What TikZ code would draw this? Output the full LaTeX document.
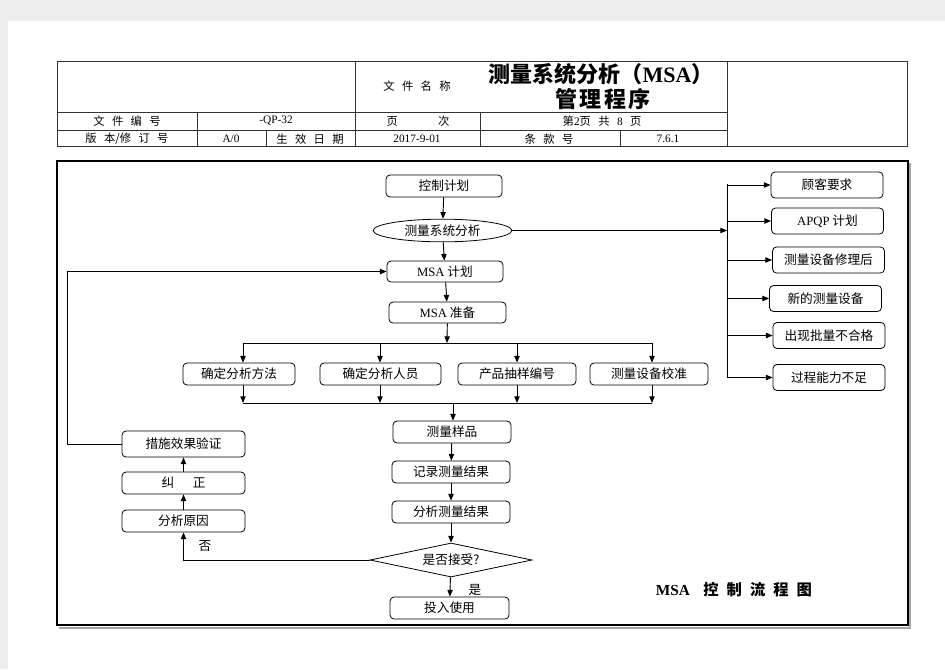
\documentclass[tikz,border=0pt]{standalone}
\usepackage{fontspec}
\setmainfont{Liberation Serif}
\newfontfamily\cjk{Noto Sans CJK SC}
\usetikzlibrary{shapes.geometric,arrows.meta}
\newcommand\widesp[1]{\spaceskip=#1\relax}

\begin{document}
\begin{tikzpicture}[x=0.75pt,y=-0.75pt,
	every node/.style={font=\cjk\fontsize{9.5pt}{11pt}\selectfont},
	box/.style={draw=black,line width=0.6pt,rounded corners=3pt,inner sep=0pt,minimum height=16.5pt},
	side/.style={box,minimum width=84pt,minimum height=19.5pt},
	cell/.style={inner sep=0pt,font=\cjk\fontsize{8.5pt}{10pt}\selectfont\widesp{5.5pt}},
	arr/.style={-{Triangle[length=5pt,width=4pt]},line width=0.7pt},
	]
	
	\useasboundingbox (0,0) rectangle (945,669);
	\fill[black!7] (0,0) rectangle (945,669);
	\fill[white] (8,21) rectangle (945,669);
	
	% header table
	\draw[black!80,line width=0.6pt] (57,61) rectangle (907,146);
	\draw[black!80,line width=0.6pt] (57,112) -- (727,112) (57,130) -- (727,130);
	\draw[black!80,line width=0.6pt] (355,61) -- (355,146) (480,112) -- (480,146) (727,61) -- (727,146);
	\draw[black!80,line width=0.6pt] (197,112) -- (197,146) (266,130) -- (266,146) (620,130) -- (620,146);
	
	\node[cell] (hname) at (417,86) {文 件 名 称};
	\node[cell,font=\cjk\bfseries\fontsize{16.5pt}{18pt}\selectfont] (title1) at (601,74) {测量系统分析（{\rmfamily\bfseries MSA}）};
	\node[cell,font=\cjk\bfseries\fontsize{16.5pt}{18pt}\selectfont] (title2) at (603,99) {管\hspace{2pt}理\hspace{2pt}程\hspace{2pt}序};
	\node[cell] (hno) at (127,121) {文 件 编 号};
	\node[cell] (vno) at (276,121) {\rmfamily -QP-32};
	\node[cell] (hpage) at (418,121) {页\hspace{30pt}次};
	\node[cell] (vpage) at (602,121) {第{\rmfamily 2}页 共 {\rmfamily 8} 页};
	\node[cell] (hver) at (127,139) {版 本/修 订 号};
	\node[cell] (vver) at (231,139) {\rmfamily A/0};
	\node[cell] (hdate) at (310,139) {生 效 日 期};
	\node[cell] (vdate) at (417,139) {\rmfamily 2017-9-01};
	\node[cell] (hcl) at (549,139) {条 款 号};
	\node[cell] (vcl) at (668,139) {\rmfamily 7.6.1};
	
	% frame
	\draw[black!35,line width=1.5pt] (910,163) -- (910,628) -- (59,628);
	\draw[black,line width=1.5pt] (57,161) rectangle (908,625);
	
	% main column
	\node[box,minimum width=87pt] (ctrl) at (444,186) {控制计划};
	\node[draw=black,line width=0.6pt,shape=ellipse,inner sep=0pt,minimum width=104pt,minimum height=17pt] (msys) at (442.5,230.5) {测量系统分析};
	\node[box,minimum width=87pt,minimum height=15.75pt] (plan) at (445,271.5) {{\rmfamily MSA} 计划};
	\node[box,minimum width=87.75pt,minimum height=15.75pt] (prep) at (447.5,312.5) {{\rmfamily MSA} 准备};
	
	\node[box,minimum width=84pt] (method) at (239,374) {确定分析方法};
	\node[box,minimum width=90.75pt] (staff) at (380.5,374) {确定分析人员};
	\node[box,minimum width=88.5pt] (sample) at (517,374) {产品抽样编号};
	\node[box,minimum width=88.5pt] (calib) at (649,374) {测量设备校准};
	
	\node[box,minimum width=88.5pt] (meas) at (452,432) {测量样品};
	\node[box,minimum width=88.5pt] (rec) at (451,472) {记录测量结果};
	\node[box,minimum width=88.5pt] (ana) at (451,512) {分析测量结果};
	\node[draw=black,line width=0.6pt,shape=diamond,aspect=4.76,inner sep=0pt,minimum width=121.5pt,minimum height=25.5pt] (acc) at (451,560) {是否接受?};
	\node[box,minimum width=89.25pt] (use) at (449.5,608) {投入使用};
	
	% left column
	\node[box,minimum width=92.25pt] (cause) at (183.5,521) {分析原因};
	\node[box,minimum width=92.25pt] (corr) at (183.5,483) {纠\hspace{14pt}正};
	\node[box,minimum width=92.25pt,minimum height=19.5pt] (verify) at (183.5,444) {措施效果验证};
	
	% right column
	\node[side] (cust) at (827,185) {顾客要求};
	\node[side] (apqp) at (827.5,221) {{\rmfamily APQP} 计划};
	\node[side] (repair) at (828.5,260) {测量设备修理后};
	\node[side] (newdev) at (825.5,298.5) {新的测量设备};
	\node[side] (batch) at (829,335.5) {出现批量不合格};
	\node[side] (cap) at (829,377.5) {过程能力不足};
	
	\node (yes) at (475,590) {是};
	\node (no) at (205,546) {否};
	\node[font=\cjk\bfseries\fontsize{11.5pt}{13pt}\selectfont\widesp{6pt}] (caption) at (734,590) {{\rmfamily MSA}\hspace{10pt}控 制 流 程 图};
	
	% connectors
	\coordinate (tbar) at (447,343);
	\coordinate (bbar) at (453,403);
	\coordinate (rail) at (727,184);
	\coordinate (loop) at (67,444);
	
	\draw[arr] (ctrl) -- (msys);
	\draw[arr] (msys) -- (plan);
	\draw[arr] (plan) -- (prep);
	\draw[arr] (prep) -- (tbar);
	\draw[line width=0.7pt] (243,343) -- (652,343);
	\draw[line width=0.7pt] (243,403) -- (652,403);
	\foreach \n/\x in {method/243,staff/380,sample/517,calib/652} {
		\draw[arr] (\x,343) -- (\n.north -| \x,0);
		\draw[arr] (\n.south -| \x,0) -- (\x,403);
	}
	\draw[arr] (bbar) -- (meas.north -| bbar);
	\draw[arr] (meas) -- (rec);
	\draw[arr] (rec) -- (ana);
	\draw[arr] (ana) -- (acc);
	\draw[arr] (acc) -- (use);
	
	\draw[arr] (acc.west) -| (cause.south);
	\draw[arr] (cause) -- (corr);
	\draw[arr] (corr) -- (verify);
	\draw[arr] (verify.west) -- (loop) |- (plan.west);
	
	\draw[line width=0.7pt] (rail) -- (727,377);
	\draw[arr] (msys.east) -- (msys.east -| rail);
	\foreach \n in {cust,apqp,repair,newdev,batch,cap}
		\draw[arr] (\n.west -| rail) -- (\n.west);
	
\end{tikzpicture}
\end{document}
